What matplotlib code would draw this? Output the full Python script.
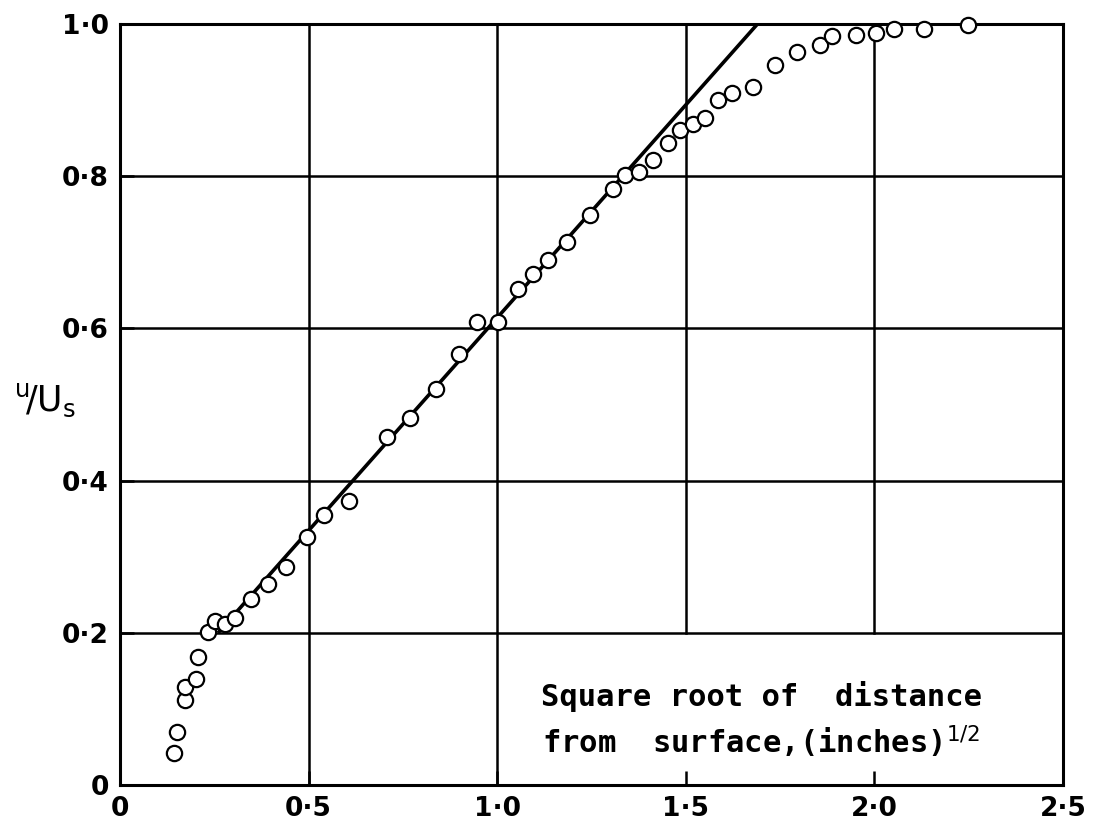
import matplotlib.pyplot as plt

# measured points: square root of distance (in^0.5) vs u/Us
sqrt_dist = [0.144, 0.152, 0.171, 0.171, 0.201, 0.206, 0.233, 0.253, 0.278, 0.306,
             0.346, 0.393, 0.441, 0.495, 0.541, 0.607, 0.707, 0.769, 0.838, 0.900,
             0.946, 1.001, 1.055, 1.096, 1.136, 1.185, 1.247, 1.307, 1.338, 1.377,
             1.413, 1.453, 1.485, 1.518, 1.552, 1.586, 1.623, 1.678, 1.737, 1.795,
             1.855, 1.888, 1.952, 2.005, 2.053, 2.131, 2.247]
u_ratio = [0.042, 0.069, 0.111, 0.129, 0.139, 0.168, 0.201, 0.215, 0.212, 0.219,
           0.245, 0.264, 0.286, 0.326, 0.355, 0.373, 0.457, 0.482, 0.521, 0.566,
           0.609, 0.608, 0.652, 0.671, 0.690, 0.713, 0.749, 0.783, 0.802, 0.805,
           0.821, 0.843, 0.861, 0.869, 0.876, 0.900, 0.910, 0.917, 0.946, 0.963,
           0.973, 0.984, 0.986, 0.988, 0.994, 0.994, 0.999]

# straight line fit
fit_x = [0.26, 1.69]
fit_y = [0.20, 1.00]

xticks = [0, 0.5, 1.0, 1.5, 2.0, 2.5]
xticklabels = ['0', '0·5', '1·0', '1·5', '2·0', '2·5']
yticks = [0, 0.2, 0.4, 0.6, 0.8, 1.0]
yticklabels = ['0', '0·2', '0·4', '0·6', '0·8', '1·0']

fig = plt.figure(figsize=(10.98, 8.34), dpi=100)
ax = fig.add_axes([0.1093, 0.0588, 0.8588, 0.9124])

ax.set_xlim(0, 2.5)
ax.set_ylim(0, 1.0)

# grid (lines at 1.5 and 2.0 stop above the label area)
for x in [0.5, 1.0]:
    ax.axvline(x, color='black', lw=1.8, zorder=1)
for x in [1.5, 2.0]:
    ax.plot([x, x], [0.2, 1.0], color='black', lw=1.8, zorder=1)
for y in [0.2, 0.4, 0.6, 0.8]:
    ax.axhline(y, color='black', lw=1.8, zorder=1)

ax.plot(fit_x, fit_y, color='black', lw=2.6, zorder=2, solid_capstyle='butt')
ax.plot(sqrt_dist, u_ratio, 'o', ms=11, mfc='white', mec='black', mew=1.6,
        zorder=3, clip_on=False)

for s in ax.spines.values():
    s.set_linewidth(2.2)

ax.set_xticks(xticks)
ax.set_xticklabels(xticklabels)
ax.set_yticks(yticks)
ax.set_yticklabels(yticklabels)
ax.tick_params(direction='in', length=10, width=1.8, labelsize=19, pad=8)
for lab in ax.get_xticklabels() + ax.get_yticklabels():
    lab.set_fontweight('bold')

ax.text(-0.2, 0.505, r'$^{\mathrm{u}}\!/\mathrm{U}_{\mathrm{s}}$', fontsize=25,
        ha='center', va='center', clip_on=False)

ax.text(1.70, 0.085, 'Square root of  distance\nfrom  surface,(inches)$^{1/2}$',
        fontsize=22, family='DejaVu Sans Mono', fontweight='bold',
        ha='center', va='center', linespacing=1.4, zorder=5)

plt.savefig('out.png', dpi=100)
